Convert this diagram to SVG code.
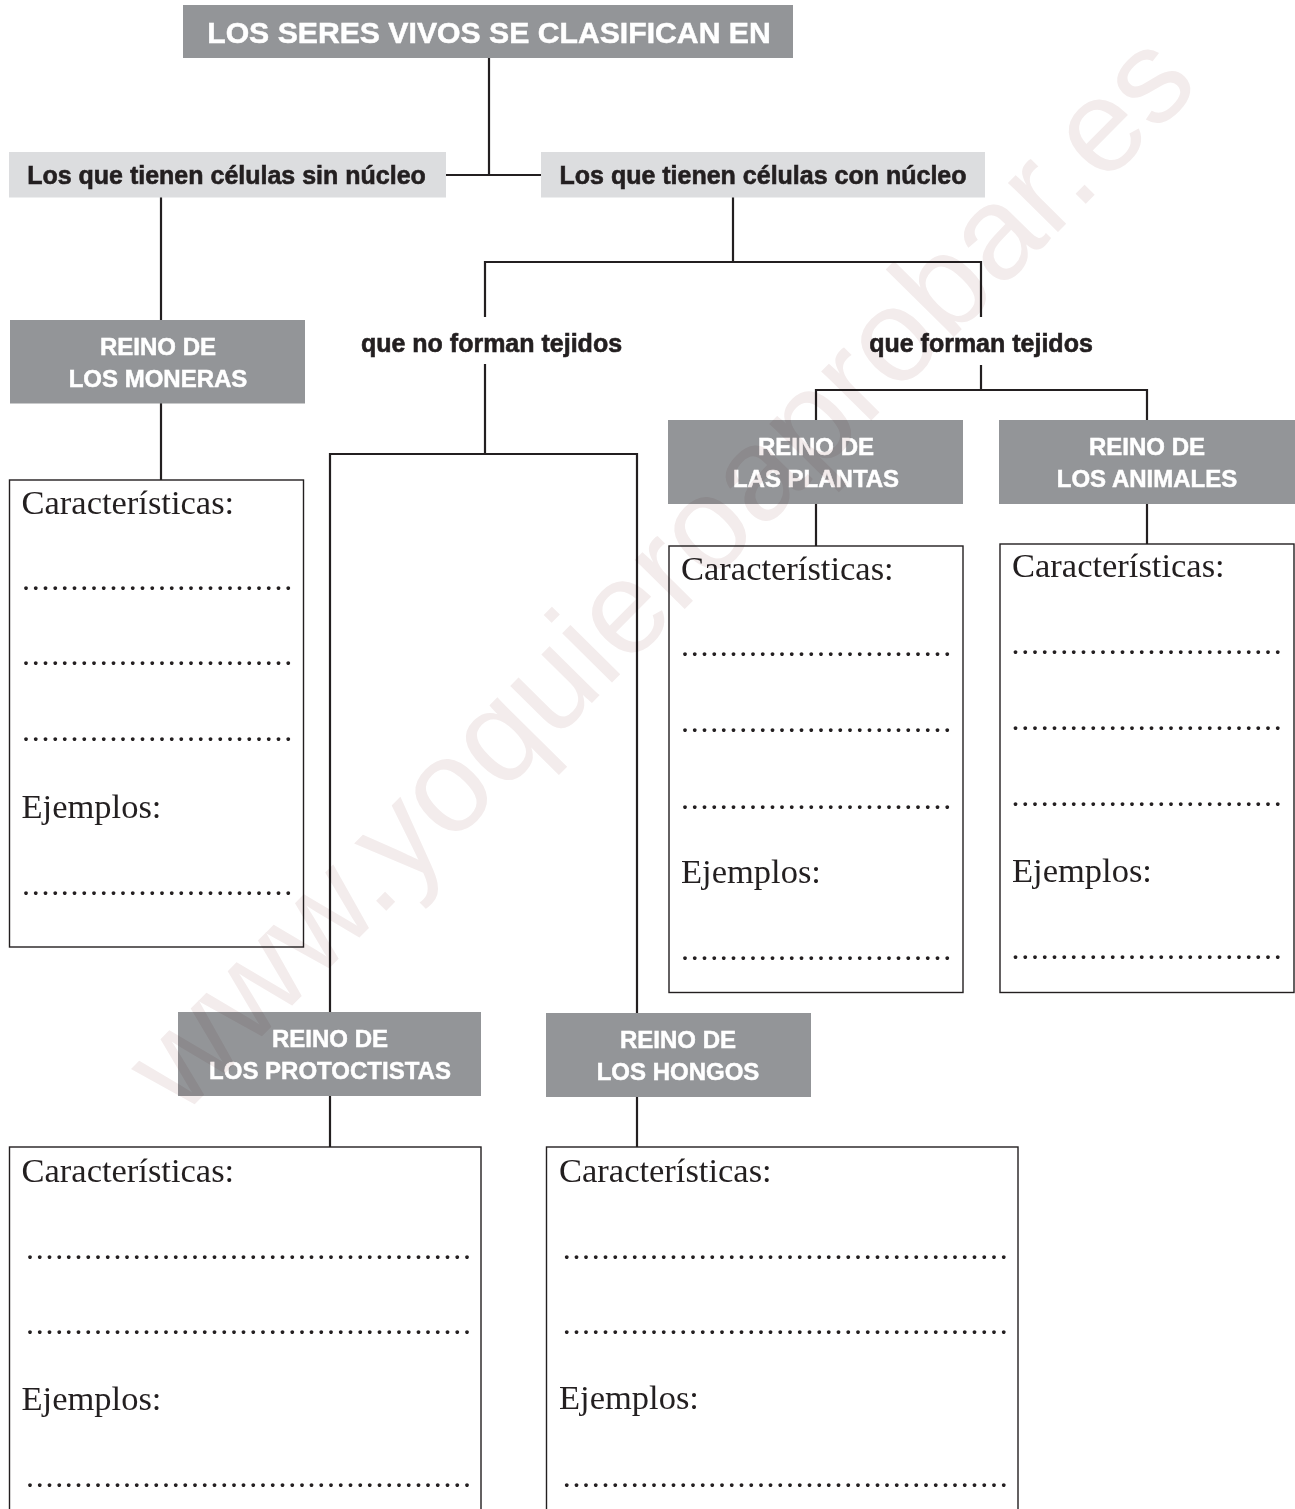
<svg xmlns="http://www.w3.org/2000/svg" width="1295" height="1509" viewBox="0 0 1295 1509">
<style>
.conn{fill:none;stroke:#231f20;stroke-width:2.2;stroke-linejoin:miter;stroke-linecap:butt}
.dark{fill:#939598}
.light{fill:#dcdddf}
.card{fill:#fff;stroke:#231f20;stroke-width:1.4}
.hw{font-family:"Liberation Sans",Arial,sans-serif;font-weight:bold;fill:#ffffff;stroke:#ffffff;stroke-width:0.5;font-size:24px;text-anchor:middle}
.title{font-size:30.2px}
.lab{font-family:"Liberation Sans",Arial,sans-serif;font-weight:bold;fill:#231f20;stroke:#231f20;stroke-width:0.6;font-size:25px;text-anchor:middle}
.serif{font-family:"Liberation Serif","Times New Roman",serif;font-size:34.5px;fill:#231f20}
.dots{font-family:"Liberation Serif","Times New Roman",serif;font-size:32px;letter-spacing:1.71px;fill:#231f20}
.wm{font-family:"Liberation Sans",Arial,sans-serif;font-size:132.5px;fill:#f3ecec;mix-blend-mode:multiply}
</style>
<rect width="1295" height="1509" fill="#ffffff"/>

<g id="connectors">
<path class="conn" d="M489 58V175"/>
<path class="conn" d="M446 175H541"/>
<path class="conn" d="M161 197V320"/>
<path class="conn" d="M161 403V480"/>
<path class="conn" d="M733 197V262"/>
<path class="conn" d="M485 317V262H981V317"/>
<path class="conn" d="M485 364V454"/>
<path class="conn" d="M330 1012V454H637V1013"/>
<path class="conn" d="M981 365V390"/>
<path class="conn" d="M816 420V390H1147V420"/>
<path class="conn" d="M816 504V546"/>
<path class="conn" d="M1147 504V544"/>
<path class="conn" d="M330 1096V1147"/>
<path class="conn" d="M637 1097V1147"/>
</g>

<g id="n-title">
<rect class="dark" x="183" y="5" width="610" height="53"/>
<text class="hw title" x="489" y="42.7">LOS SERES VIVOS SE CLASIFICAN EN</text>
</g>

<g id="n-sin-nucleo">
<rect class="light" x="9" y="152" width="437" height="45.5"/>
<text class="lab" x="226.5" y="184.3">Los que tienen células sin núcleo</text>
</g>

<g id="n-con-nucleo">
<rect class="light" x="541" y="152" width="444" height="45.5"/>
<text class="lab" x="763" y="184.3">Los que tienen células con núcleo</text>
</g>

<g id="n-no-tejidos">
<text class="lab" x="491.5" y="351.7">que no forman tejidos</text>
</g>

<g id="n-tejidos">
<text class="lab" x="981" y="351.7">que forman tejidos</text>
</g>

<g id="n-moneras">
<rect class="dark" x="10" y="320" width="295" height="83.5"/>
<text class="hw" x="158" y="355">REINO DE</text>
<text class="hw" x="158" y="387">LOS MONERAS</text>
</g>

<g id="n-plantas">
<rect class="dark" x="668" y="420" width="295" height="84"/>
<text class="hw" x="816" y="455">REINO DE</text>
<text class="hw" x="816" y="487">LAS PLANTAS</text>
</g>

<g id="n-animales">
<rect class="dark" x="999" y="420" width="296" height="84"/>
<text class="hw" x="1147" y="455">REINO DE</text>
<text class="hw" x="1147" y="487">LOS ANIMALES</text>
</g>

<g id="n-protoctistas">
<rect class="dark" x="178" y="1012" width="303" height="84"/>
<text class="hw" x="330" y="1046.7">REINO DE</text>
<text class="hw" x="330" y="1079">LOS PROTOCTISTAS</text>
</g>

<g id="n-hongos">
<rect class="dark" x="546" y="1013" width="265" height="84"/>
<text class="hw" x="678" y="1048">REINO DE</text>
<text class="hw" x="678" y="1080">LOS HONGOS</text>
</g>

<g id="c-moneras">
<rect class="card" x="9.5" y="480" width="294" height="467"/>
<text class="serif" x="21.5" y="514">Características:</text>
<text class="dots" x="22" y="589.5">............................</text>
<text class="dots" x="22" y="665">............................</text>
<text class="dots" x="22" y="740.7">............................</text>
<text class="serif" x="21.5" y="817.7">Ejemplos:</text>
<text class="dots" x="22" y="894.5">............................</text>
</g>

<g id="c-plantas">
<rect class="card" x="669" y="546" width="294" height="446.5"/>
<text class="serif" x="681" y="580">Características:</text>
<text class="dots" x="681" y="656">............................</text>
<text class="dots" x="681" y="732">............................</text>
<text class="dots" x="681" y="808.5">............................</text>
<text class="serif" x="681" y="883">Ejemplos:</text>
<text class="dots" x="681" y="960">............................</text>
</g>

<g id="c-animales">
<rect class="card" x="1000" y="544" width="294" height="448.5"/>
<text class="serif" x="1012" y="577.3">Características:</text>
<text class="dots" x="1011.6" y="653.5">............................</text>
<text class="dots" x="1011.6" y="730">............................</text>
<text class="dots" x="1011.6" y="805.8">............................</text>
<text class="serif" x="1012" y="881.7">Ejemplos:</text>
<text class="dots" x="1011.6" y="958.5">............................</text>
</g>

<g id="c-protoctistas">
<rect class="card" x="9.5" y="1147" width="471.5" height="380"/>
<text class="serif" x="21.5" y="1181.7">Características:</text>
<text class="dots" x="26" y="1258.5">..............................................</text>
<text class="dots" x="26" y="1333.8">..............................................</text>
<text class="serif" x="21.5" y="1410">Ejemplos:</text>
<text class="dots" x="26" y="1486.8">..............................................</text>
</g>

<g id="c-hongos">
<rect class="card" x="546.5" y="1147" width="471.5" height="380"/>
<text class="serif" x="559" y="1181.7">Características:</text>
<text class="dots" x="562.7" y="1258.5">..............................................</text>
<text class="dots" x="562.7" y="1333.8">..............................................</text>
<text class="serif" x="559" y="1409">Ejemplos:</text>
<text class="dots" x="562.7" y="1486.8">..............................................</text>
</g>

<g id="watermark">
<text class="wm" transform="translate(181 1118) rotate(-45.3)">www.yoquieroaprobar.es</text>
</g>
</svg>
